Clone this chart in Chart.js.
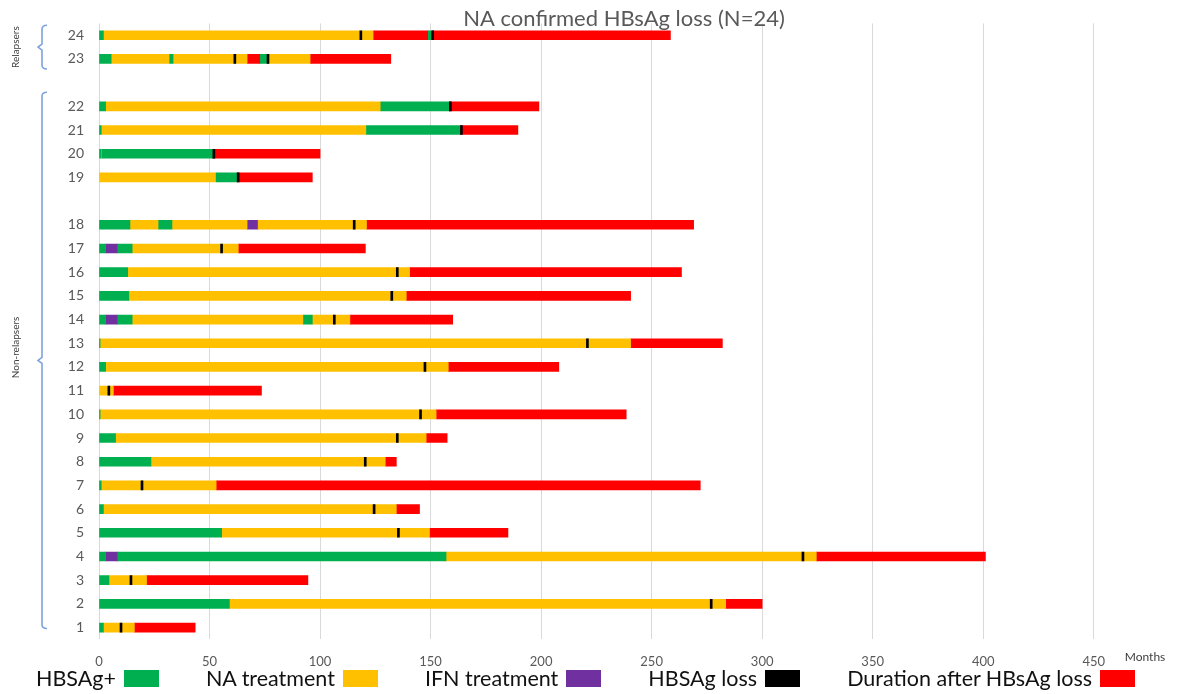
<!DOCTYPE html>
<html>
<head>
<meta charset="utf-8">
<script src="https://cdn.jsdelivr.net/npm/chart.js@4.4.1/dist/chart.umd.min.js"></script>
<style>
  html, body { margin: 0; padding: 0; background: #fff; }
  #wrap { position: relative; width: 1181px; height: 694px; overflow: hidden; }
  #chart { display: block; }
  #legend {
    position: absolute; left: -5px; top: 666px; width: 1181px; height: 24px;
    display: flex; justify-content: center; align-items: center; gap: 47px;
    font-family: Lato, sans-serif; font-size: 21.5px; color: #111;
  }
  .item { display: flex; align-items: center; gap: 8px; white-space: nowrap; }
  .swatch { width: 35px; height: 17px; }
</style>
</head>
<body>
<div id="wrap">
  <canvas id="chart" width="1181" height="694"></canvas>
  <div id="legend"></div>
</div>
<script>
// Patient rows from top to bottom; blank rows separate the two groups
const rowLabels = ['24', '23', '', '22', '21', '20', '19', '', '18', '17', '16', '15', '14',
  '13', '12', '11', '10', '9', '8', '7', '6', '5', '4', '3', '2', '1'];

// Periods in months: [patient, start, end]
const hbsagPositive = [
  ['24', 0, 2], ['24', 149, 151],
  ['23', 0, 5.5], ['23', 32, 33.5], ['23', 73, 76.5],
  ['22', 0, 3], ['22', 127.5, 158.5],
  ['21', 0, 1], ['21', 121, 163.5],
  ['20', 0, 1], ['20', 1.5, 51.5],
  ['19', 53, 62.5],
  ['18', 0, 14], ['18', 27, 33],
  ['17', 0, 3], ['17', 8.5, 15],
  ['16', 0, 13],
  ['15', 0, 13.5],
  ['14', 0, 3], ['14', 8.5, 15], ['14', 92.5, 96.5],
  ['13', 0, 0.5],
  ['12', 0, 3],
  ['10', 0, 0.5],
  ['9', 0, 7.5],
  ['8', 0, 23.5],
  ['7', 0, 1],
  ['6', 0, 2],
  ['5', 0, 55.5],
  ['4', 0, 3], ['4', 8.5, 157],
  ['3', 0, 4.5],
  ['2', 0, 59],
  ['1', 0, 2]
];

const naTreatment = [
  ['24', 2, 124],
  ['23', 5.5, 32], ['23', 33.5, 67], ['23', 76.5, 95.5],
  ['22', 3, 127.5],
  ['21', 1, 121],
  ['20', 1, 1.5],
  ['19', 0, 53],
  ['18', 14, 27], ['18', 33, 67], ['18', 72, 121],
  ['17', 15, 63],
  ['16', 13, 140.5],
  ['15', 13.5, 139],
  ['14', 15, 92.5], ['14', 96.5, 113.5],
  ['13', 0.5, 240.5],
  ['12', 3, 158],
  ['11', 0, 6.5],
  ['10', 0.5, 152.5],
  ['9', 7.5, 148],
  ['8', 23.5, 129.5],
  ['7', 1, 53],
  ['6', 2, 134.5],
  ['5', 55.5, 149.5],
  ['4', 157, 324.5],
  ['3', 4.5, 21.5],
  ['2', 59, 283.5],
  ['1', 2, 16]
];

const ifnTreatment = [
  ['18', 67, 72],
  ['17', 3, 8.5],
  ['14', 3, 8.5],
  ['4', 3, 8.5]
];

// Month at which HBsAg loss was recorded: [patient, month]
const hbsagLossMonth = [
  ['24', 118], ['24', 150.5], ['23', 61], ['23', 76], ['22', 158.5], ['21', 163.5],
  ['20', 51.5], ['19', 62.5], ['18', 115], ['17', 55], ['16', 134.5], ['15', 132],
  ['14', 106], ['13', 220.5], ['12', 147], ['11', 4], ['10', 145], ['9', 134.5],
  ['8', 120], ['7', 19], ['6', 124], ['5', 135], ['4', 318], ['3', 14],
  ['2', 276.5], ['1', 9.5]
];

const afterLoss = [
  ['24', 124, 149], ['24', 151, 258.5],
  ['23', 67, 73], ['23', 95.5, 132],
  ['22', 158.5, 199],
  ['21', 163.5, 189.5],
  ['20', 51.5, 100],
  ['19', 62.5, 96.5],
  ['18', 121, 269],
  ['17', 63, 120.5],
  ['16', 140.5, 263.5],
  ['15', 139, 240.5],
  ['14', 113.5, 160],
  ['13', 240.5, 282],
  ['12', 158, 208],
  ['11', 6.5, 73.5],
  ['10', 152.5, 238.5],
  ['9', 148, 157.5],
  ['8', 129.5, 134.5],
  ['7', 53, 272],
  ['6', 134.5, 145],
  ['5', 149.5, 185],
  ['4', 324.5, 401],
  ['3', 21.5, 94.5],
  ['2', 283.5, 300],
  ['1', 16, 43.5]
];

const monthTicks = [0, 50, 100, 150, 200, 250, 300, 350, 400, 450];

const groups = [
  { label: 'Relapsers', first: '24', last: '23', extTop: 10, extBottom: 10 },
  { label: 'Non-relapsers', first: '22', last: '1', extTop: 14, extBottom: 1 }
];

const periods = rows => rows.map(([y, s, e]) => ({ y, x: [s, e] }));
const instants = rows => rows.map(([y, t]) => ({ y, x: [t, t] }));

const barCommon = { grouped: false, barThickness: 9, borderWidth: 0, order: 1 };

// Title, axis unit, and the patient group brackets on the left
const annotations = {
  id: 'annotations',
  afterDraw(chart) {
    const { ctx, chartArea, scales: { x, y } } = chart;
    ctx.save();
    ctx.fillStyle = '#595959';
    ctx.font = '22px Lato, sans-serif';
    ctx.textAlign = 'center';
    ctx.textBaseline = 'middle';
    ctx.fillText('NA confirmed HBsAg loss (N=24)', (chartArea.left + chartArea.right) / 2, chartArea.top - 4);

    ctx.fillStyle = '#404040';
    ctx.font = '12px Lato, sans-serif';
    ctx.fillText('Months', chartArea.right - 4, x.top + 18);

    const bx = 42;
    groups.forEach(g => {
      const top = y.getPixelForValue(rowLabels.indexOf(g.first)) - g.extTop;
      const bottom = y.getPixelForValue(rowLabels.indexOf(g.last)) + g.extBottom;
      const mid = (top + bottom) / 2;
      ctx.strokeStyle = '#7fa2dc';
      ctx.lineWidth = 1.6;
      ctx.beginPath();
      ctx.moveTo(bx + 5, top);
      ctx.quadraticCurveTo(bx, top, bx, top + 4);
      ctx.lineTo(bx, mid - 3);
      ctx.lineTo(bx - 4, mid);
      ctx.lineTo(bx, mid + 3);
      ctx.lineTo(bx, bottom - 4);
      ctx.quadraticCurveTo(bx, bottom, bx + 5, bottom);
      ctx.stroke();

      ctx.save();
      ctx.translate(16, g.label === 'Relapsers' ? mid : mid - 13);
      ctx.rotate(-Math.PI / 2);
      ctx.fillStyle = '#404040';
      ctx.font = '10px Lato, sans-serif';
      ctx.fillText(g.label, 0, 0);
      ctx.restore();
    });
    ctx.restore();
  }
};

Chart.defaults.font.family = 'Lato, sans-serif';

const chart = new Chart(document.getElementById('chart'), {
  type: 'bar',
  data: {
    labels: rowLabels,
    datasets: [
      { ...barCommon, label: 'HBSAg+', data: periods(hbsagPositive), backgroundColor: '#00b050' },
      { ...barCommon, label: 'NA treatment', data: periods(naTreatment), backgroundColor: '#ffc000' },
      { ...barCommon, label: 'IFN treatment', data: periods(ifnTreatment), backgroundColor: '#7030a0' },
      { ...barCommon, label: 'HBSAg loss', data: instants(hbsagLossMonth), backgroundColor: '#000000',
        minBarLength: 2, order: 0 },
      { ...barCommon, label: 'Duration after HBsAg loss', data: periods(afterLoss), backgroundColor: '#ff0000' }
    ]
  },
  options: {
    indexAxis: 'y',
    responsive: false,
    animation: false,
    layout: { padding: { top: 23, right: 32, bottom: 9, left: 0 } },
    plugins: { legend: { display: false }, tooltip: { enabled: false } },
    scales: {
      x: {
        type: 'linear',
        min: 0,
        max: 475,
        bounds: 'data',
        afterBuildTicks: scale => { scale.ticks = monthTicks.map(v => ({ value: v })); },
        grid: { color: '#d9d9d9', lineWidth: 1, drawTicks: false },
        border: { display: false },
        ticks: { color: '#595959', font: { size: 13 }, padding: 15, maxRotation: 0 }
      },
      y: {
        type: 'category',
        grid: { display: false, drawTicks: false },
        border: { display: false },
        afterFit: scale => { scale.width = 99; },
        ticks: { color: '#595959', font: { size: 14 }, padding: 15, autoSkip: false }
      }
    }
  },
  plugins: [annotations]
});

// Legend: label text followed by its colour swatch
const legendEl = document.getElementById('legend');
chart.data.datasets.forEach(ds => {
  const item = document.createElement('span');
  item.className = 'item';
  const text = document.createElement('span');
  text.textContent = ds.label;
  const swatch = document.createElement('span');
  swatch.className = 'swatch';
  swatch.style.background = ds.backgroundColor;
  item.appendChild(text);
  item.appendChild(swatch);
  legendEl.appendChild(item);
});
</script>
</body>
</html>
